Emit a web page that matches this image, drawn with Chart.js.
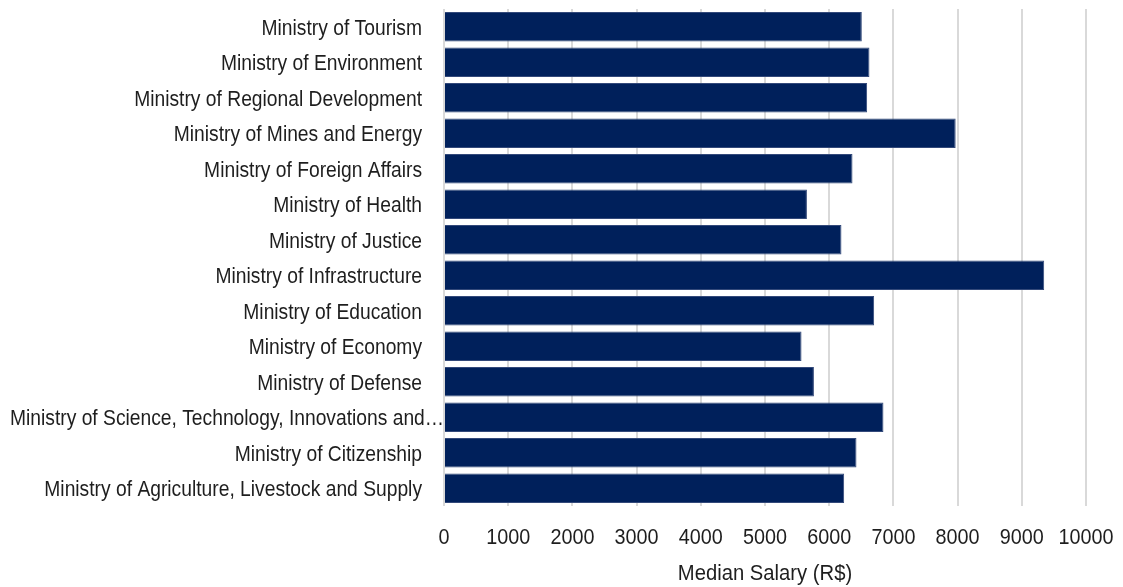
<!DOCTYPE html>
<html>
<head>
<meta charset="utf-8">
<script src="https://cdn.jsdelivr.net/npm/chart.js@4"></script>
<style>
  html, body { margin: 0; padding: 0; background: #fff; }
  #wrap { width: 1123px; height: 587px; }
</style>
</head>
<body>
<div id="wrap"><canvas id="c"></canvas></div>
<script>
const ministries = [
    "Ministry of Tourism",
    "Ministry of Environment",
    "Ministry of Regional Development",
    "Ministry of Mines and Energy",
    "Ministry of Foreign Affairs",
    "Ministry of Health",
    "Ministry of Justice",
    "Ministry of Infrastructure",
    "Ministry of Education",
    "Ministry of Economy",
    "Ministry of Defense",
    "Ministry of Science, Technology, Innovations and\u2026",
    "Ministry of Citizenship",
    "Ministry of Agriculture, Livestock and Supply"
]
const medianSalary = [6508, 6627, 6591, 7970, 6363, 5653, 6191, 9349, 6700, 5569, 5762, 6845, 6425, 6233]
const salaryTicks = [0, 1000, 2000, 3000, 4000, 5000, 6000, 7000, 8000, 9000, 10000]
const axisTitle = "Median Salary (R$)"

// labels are drawn narrow: regular sans squeezed horizontally
const squeeze = 0.875
const labelFont = "22px 'Liberation Sans', Arial, sans-serif"

const narrowLabels = {
    id: 'narrowLabels',
    afterDraw(chart) {
        const ctx = chart.ctx
        const xs = chart.scales.x
        const ys = chart.scales.y
        ctx.save()
        ctx.font = labelFont
        ctx.fillStyle = '#1e1e1e'
        ctx.textBaseline = 'alphabetic'
        const put = (text, x, y, align, sx) => {
            ctx.save()
            ctx.translate(x, y)
            ctx.scale(sx || squeeze, 1)
            ctx.textAlign = align
            ctx.fillText(text, 0, 0)
            ctx.restore()
        }
        const right = xs.left - 22
        ys.ticks.forEach((t, i) => {
            const label = ys.getLabelForValue(t.value)
            const y = ys.getPixelForTick(i) + 8
            const w = ctx.measureText(label).width * squeeze
            if (w > right - 10) put(label, 10, y, 'left')
            else put(label, right, y, 'right')
        })
        xs.ticks.forEach((t, i) => {
            put(String(t.value), xs.getPixelForTick(i), xs.top + 38, 'center', 0.9)
        })
        put(axisTitle, (xs.left + xs.right) / 2, xs.top + 74, 'center', 0.92)
        ctx.restore()
    }
}

let data = {
    labels: ministries,
    datasets: [{
        data: medianSalary,
        label: axisTitle,
        backgroundColor: "#00205b",
        borderColor: "#33497a",
        borderWidth: 1,
        barPercentage: 0.826,
        categoryPercentage: 1.0
    }]
}

var salaryChart = new Chart(document.getElementById('c'), {
    type: 'bar',
    data: data,
    plugins: [narrowLabels],
    options: {
        indexAxis: 'y',
        responsive: true,
        maintainAspectRatio: false,
        animation: false,
        layout: { padding: { top: 9, right: 37, left: 0, bottom: 0 } },
        plugins: {
            legend: { display: false },
            tooltip: { enabled: false }
        },
        scales: {
            x: {
                min: 0,
                max: 10000,
                afterBuildTicks: (scale) => {
                    scale.ticks = salaryTicks.map(v => ({ value: v }))
                },
                grid: { color: '#d9d9d9', lineWidth: 2, drawTicks: false },
                border: { display: false },
                ticks: { display: false },
                afterFit: (scale) => { scale.height = 81 }
            },
            y: {
                grid: { display: false, drawTicks: false },
                border: { display: false },
                ticks: { display: false, autoSkip: false },
                afterFit: (scale) => { scale.width = 444 }
            }
        }
    }
})
</script>
</body>
</html>
